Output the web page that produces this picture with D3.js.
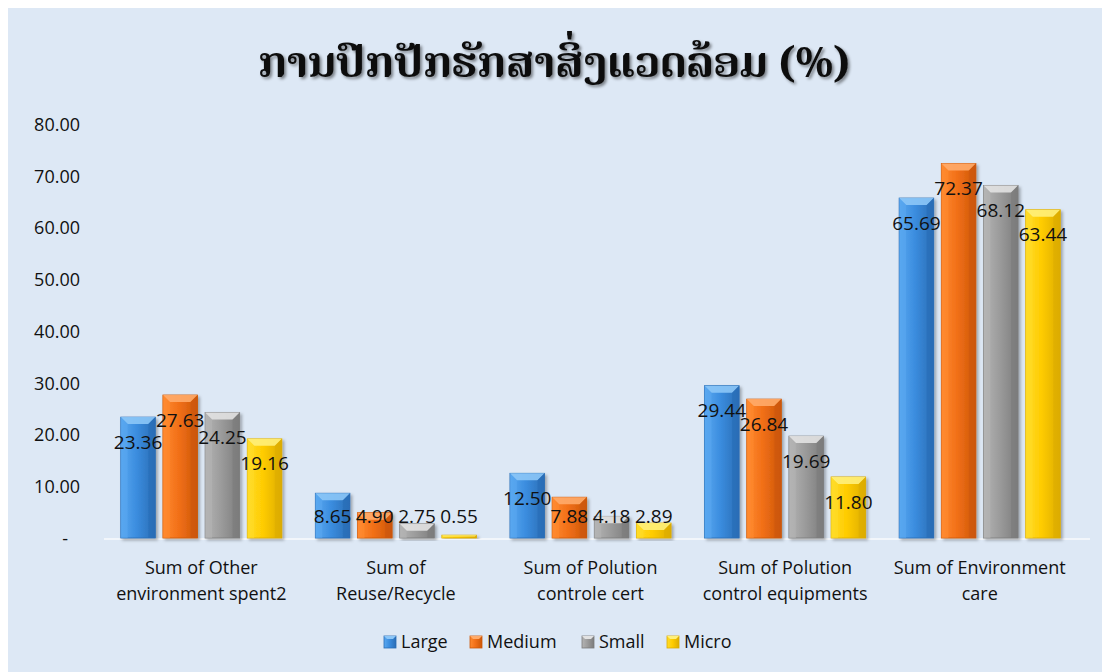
<!DOCTYPE html>
<html>
<head>
<meta charset="utf-8">
<script src="https://cdn.jsdelivr.net/npm/d3@7"></script>
<style>
  html, body { margin: 0; padding: 0; background: #ffffff; }
  svg { display: block; }
  text { font-family: "Open Sans", "Noto Sans", sans-serif; fill: #111; }
</style>
</head>
<body>
<svg id="chart" width="1102" height="672"></svg>
<script>
// Chart data
const title = "ການປົກປັກຮັກສາສິ່ງແວດລ້ອມ (%)";
const categories = [
  ["Sum of Other", "environment spent2"],
  ["Sum of", "Reuse/Recycle"],
  ["Sum of Polution", "controle cert"],
  ["Sum of Polution", "control equipments"],
  ["Sum of Environment", "care"]
];
const seriesNames = ["Large", "Medium", "Small", "Micro"];
const large  = [23.36, 8.65, 12.50, 29.44, 65.69];
const medium = [27.63, 4.90, 7.88, 26.84, 72.37];
const small  = [24.25, 2.75, 4.18, 19.69, 68.12];
const micro  = [19.16, 0.55, 2.89, 11.80, 63.44];
const yTicks = [0, 10, 20, 30, 40, 50, 60, 70, 80];

const seriesValues = [large, medium, small, micro];
const palette = {
  Large:  { light: "#5aa8f0", mid: "#3b8ddf", dark: "#2a6db5", top: "#8cc6f7" },
  Medium: { light: "#ff8a30", mid: "#f27018", dark: "#cc5708", top: "#ffab6a" },
  Small:  { light: "#b4b4b4", mid: "#9c9c9c", dark: "#7c7c7c", top: "#e2e2e2" },
  Micro:  { light: "#ffdc2a", mid: "#ffcc00", dark: "#dcac00", top: "#fff07a" }
};

const svg = d3.select("#chart");
const W = 1102, H = 672;

// Panel background
svg.append("rect").attr("x", 8).attr("y", 8).attr("width", W - 8).attr("height", H - 8)
  .attr("fill", "#dde8f5");

const defs = svg.append("defs");
const shadow = defs.append("filter").attr("id", "barShadow")
  .attr("x", "-20%").attr("y", "-10%").attr("width", "150%").attr("height", "130%");
shadow.append("feDropShadow").attr("dx", 2).attr("dy", 2).attr("stdDeviation", 1.6)
  .attr("flood-color", "#000").attr("flood-opacity", 0.3);

const titleShadow = defs.append("filter").attr("id", "titleShadow")
  .attr("x", "-5%").attr("y", "-20%").attr("width", "110%").attr("height", "150%");
titleShadow.append("feDropShadow").attr("dx", 2).attr("dy", 2).attr("stdDeviation", 1.5)
  .attr("flood-color", "#000").attr("flood-opacity", 0.45);

seriesNames.forEach(name => {
  const c = palette[name];
  const g = defs.append("linearGradient").attr("id", "grad-" + name)
    .attr("x1", "0").attr("y1", "0").attr("x2", "1").attr("y2", "0");
  g.append("stop").attr("offset", "0").attr("stop-color", c.light);
  g.append("stop").attr("offset", "0.45").attr("stop-color", c.mid);
  g.append("stop").attr("offset", "1").attr("stop-color", c.dark);
});

// Scales
const x0 = d3.scaleBand().domain(d3.range(categories.length))
  .range([104, 1077]).paddingInner(0.172).paddingOuter(0.086);
const x1 = d3.scaleBand().domain(seriesNames)
  .range([0, x0.bandwidth()]).paddingInner(0.18).paddingOuter(0);
const y = d3.scaleLinear().domain([0, 80]).range([538, 124]);

// Title
svg.append("text")
  .attr("x", 258).attr("y", 77)
  .attr("textLength", 592).attr("lengthAdjust", "spacing")
  .attr("filter", "url(#titleShadow)")
  .style("font-family", "'Noto Serif Lao', 'Phetsarath OT', 'Saysettha OT', 'Noto Sans Lao', 'DejaVu Sans', serif")
  .style("font-size", "42px").style("font-weight", "bold")
  .text(title);

// Y axis
const yAxis = d3.axisLeft(y).tickValues(yTicks)
  .tickFormat(d => d === 0 ? "-" : d3.format(".2f")(d))
  .tickSize(0).tickPadding(0);
const yg = svg.append("g").attr("transform", "translate(80,0)").call(yAxis);
yg.select(".domain").remove();
yg.selectAll("text").style("font-size", "18px").attr("fill", "#111")
  .style("font-family", "'Open Sans', sans-serif").attr("dy", "0.35em");
yg.selectAll(".tick").filter(d => d === 0).select("text").attr("dx", "-12px");

// Baseline
svg.append("line").attr("x1", 104).attr("x2", 1090)
  .attr("y1", y(0) + 1).attr("y2", y(0) + 1)
  .attr("stroke", "#f2f6fb").attr("stroke-width", 2);

// Bars
const groups = svg.append("g").selectAll("g").data(categories).join("g")
  .attr("transform", (d, i) => `translate(${x0(i)},0)`);

groups.each(function(cat, ci) {
  const g = d3.select(this);
  seriesNames.forEach((name, si) => {
    const v = seriesValues[si][ci];
    const bx = x1(name), bw = x1.bandwidth();
    const top = y(v), h = y(0) - y(v);
    const c = palette[name];
    const bar = g.append("g").attr("filter", "url(#barShadow)");
    bar.append("rect").attr("x", bx).attr("y", top).attr("width", bw).attr("height", h)
      .attr("fill", `url(#grad-${name})`).attr("stroke", c.dark).attr("stroke-width", 0.8);
    const bev = Math.min(7, h / 2);
    // top bevel highlight
    bar.append("path")
      .attr("d", `M${bx},${top} L${bx + bw},${top} L${bx + bw - bev},${top + bev} L${bx + bev},${top + bev} Z`)
      .attr("fill", c.top).attr("opacity", 0.9);
    // left edge highlight
    bar.append("path")
      .attr("d", `M${bx},${top} L${bx + bev},${top + bev} L${bx + bev},${top + h} L${bx},${top + h} Z`)
      .attr("fill", c.light).attr("opacity", 0.55);
    // right edge shading
    bar.append("path")
      .attr("d", `M${bx + bw},${top} L${bx + bw - bev},${top + bev} L${bx + bw - bev},${top + h} L${bx + bw},${top + h} Z`)
      .attr("fill", c.dark).attr("opacity", 0.6);
  });
});

// Value labels
groups.each(function(cat, ci) {
  const g = d3.select(this);
  seriesNames.forEach((name, si) => {
    const v = seriesValues[si][ci];
    const cx = x1(name) + x1.bandwidth() / 2;
    const cy = Math.min(y(v) + 25, 516);
    g.append("text").attr("x", cx).attr("y", cy).attr("dy", "0.35em")
      .attr("text-anchor", "middle").style("font-size", "19px").attr("fill", "#111")
      .text(d3.format(".2f")(v));
  });
});

// Category labels
groups.each(function(lines, ci) {
  const g = d3.select(this);
  const t = g.append("text").attr("text-anchor", "middle").style("font-size", "18px");
  lines.forEach((ln, li) => {
    t.append("tspan").attr("x", x0.bandwidth() / 2).attr("y", 574 + li * 26).text(ln);
  });
});

// Legend
const legendItems = [
  { name: "Large", x: 384 },
  { name: "Medium", x: 470 },
  { name: "Small", x: 582 },
  { name: "Micro", x: 667 }
];
const lg = svg.append("g");
legendItems.forEach(it => {
  const c = palette[it.name];
  lg.append("rect").attr("x", it.x).attr("y", 636).attr("width", 12).attr("height", 12)
    .attr("fill", `url(#grad-${it.name})`).attr("stroke", c.dark).attr("stroke-width", 0.8);
  lg.append("path").attr("d", `M${it.x},636 L${it.x + 12},636 L${it.x + 9},639 L${it.x + 3},639 Z`)
    .attr("fill", c.top);
  lg.append("text").attr("x", it.x + 17).attr("y", 642).attr("dy", "0.35em")
    .style("font-size", "18px").text(it.name);
});
</script>
</body>
</html>
